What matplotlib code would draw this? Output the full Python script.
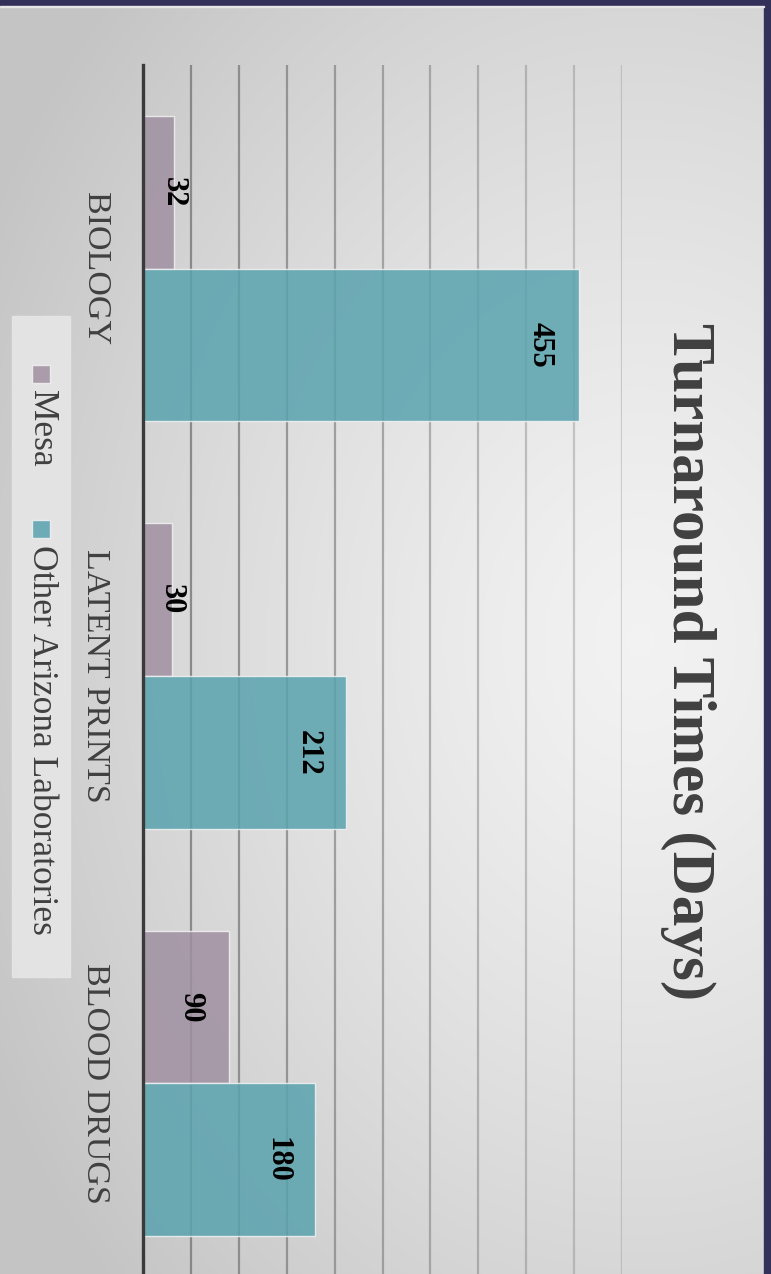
import numpy as np
import matplotlib.pyplot as plt
from matplotlib.patches import Rectangle

categories = ["BIOLOGY", "LATENT PRINTS", "BLOOD DRUGS"]
series_names = ["Mesa", "Other Arizona Laboratories"]
mesa = [32, 30, 90]
other = [455, 212, 180]
ticks = [0, 50, 100, 150, 200, 250, 300, 350, 400, 450, 500]

colors = ["#a090a1", "#59a2ae"]
text_col = "#404040"
serif = ["Liberation Serif", "DejaVu Serif"]

W, H = 771, 1274
fig = plt.figure(figsize=(W / 100, H / 100), dpi=100)

# slide background: soft radial gradient, lighter towards the middle right
bg = fig.add_axes([0, 0, 1, 1], zorder=-10)
yy, xx = np.mgrid[0:H, 0:W]
r = np.sqrt(((xx - 640) / 700.0) ** 2 + ((yy - 640) / 900.0) ** 2)
shade = np.clip(0.95 - 0.17 * r ** 1.3, 0.77, 0.95)
bg.imshow(np.dstack([shade] * 3), extent=[0, W, H, 0], aspect="auto")
bg.set_xlim(0, W)
bg.set_ylim(H, 0)
bg.axis("off")
# dark frame strips along top and right
bg.add_patch(Rectangle((0, 0), W, 6, color="#33305a", zorder=5))
bg.add_patch(Rectangle((764, 0), 7, H, color="#33305a", zorder=5))
bg.add_patch(Rectangle((0, 6), 764, 1, color="#e6e6e6", zorder=5))

ax = fig.add_axes([143 / W, -13 / H, (622 - 143) / W, (1287 - 65) / H])
ax.set_facecolor("none")

y = np.arange(len(categories))
bh = 0.375
ax.barh(y - bh / 2, mesa, height=bh, color=colors[0], alpha=0.85,
        edgecolor="#f2f2f2", linewidth=1, zorder=3)
ax.barh(y + bh / 2, other, height=bh, color=colors[1], alpha=0.85,
        edgecolor="#f2f2f2", linewidth=1, zorder=3)

ax.set_xlim(0, 500)
ax.set_ylim(len(categories) - 0.5, -0.5)

# vertical gridlines, fading out towards the right
for i, t in enumerate(ticks[1:]):
    ax.axvline(t, color="#777777", lw=1.6, alpha=0.8 - 0.058 * i, zorder=1)
ax.axvline(0, color="#3a3a3a", lw=2.4, zorder=4, clip_on=False)

for s in ax.spines.values():
    s.set_visible(False)
ax.set_xticks([])
ax.set_yticks([])

# value labels near the bar ends
for vals, off in ((mesa, -bh / 2), (other, bh / 2)):
    for i, v in enumerate(vals):
        xpos = v - 40 if v > 80 else v
        ax.text(xpos, i + off, str(v), rotation=-90, ha="center", va="center",
                fontsize=22, fontweight="bold", family=serif, color="black",
                zorder=5)

# category labels to the left of the axis
for i, c in enumerate(categories):
    ax.text(-50, i, c, rotation=-90, ha="center", va="center",
            fontsize=24.5, family=serif, color=text_col)

fig.text(688 / W, 1 - 662 / H, "Turnaround Times (Days)", rotation=-90,
         ha="center", va="center", fontsize=44, fontweight="bold",
         family=serif, color=text_col)

# legend box along the left edge
bg.add_patch(Rectangle((12, 316), 58, 661, color="#e6e6e6", alpha=0.9, zorder=2))
lx = 41
ly = 374
for name, col in zip(series_names, colors):
    bg.add_patch(Rectangle((lx - 9, ly - 9), 18, 18, facecolor=col, alpha=0.85,
                           edgecolor="#f2f2f2", lw=1, zorder=3))
    bg.text(lx, ly + 16, name, rotation=-90, ha="center", va="top",
            fontsize=25.5, family=serif, color=text_col, zorder=3)
    ly = 529

fig.savefig("out.png", dpi=100)
